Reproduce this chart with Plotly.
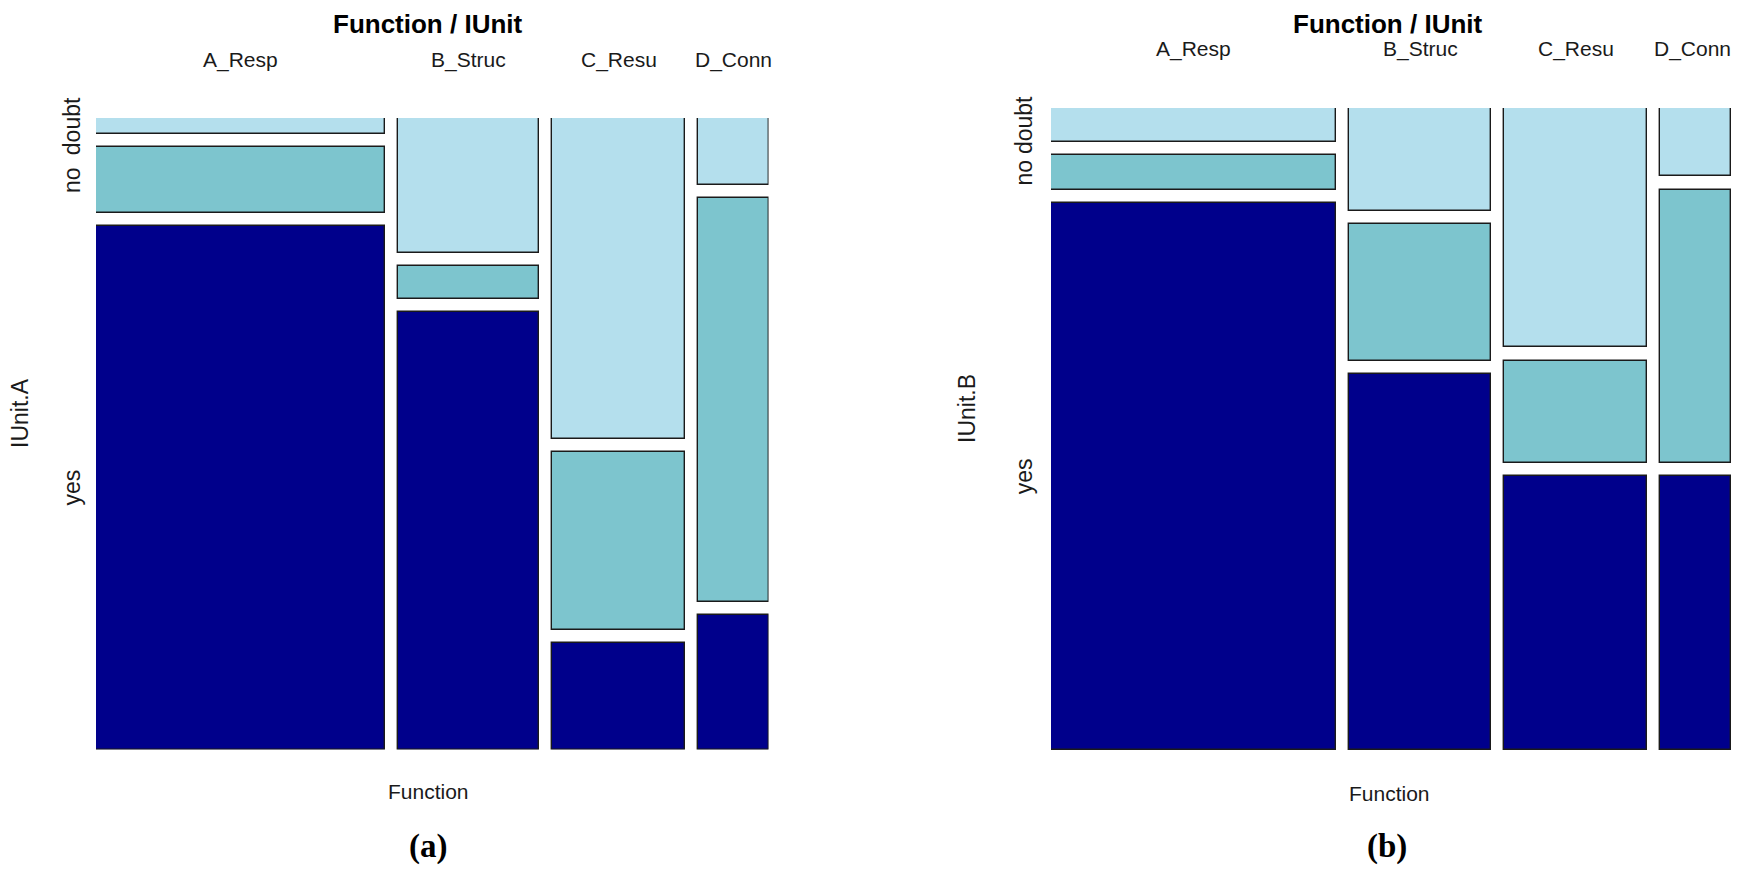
import plotly.graph_objects as go

# ---------------- data ----------------
functions = ["A_Resp", "B_Struc", "C_Resu", "D_Conn"]
levels = ["doubt", "no", "yes"]          # top -> bottom in the mosaic
level_colors = ["#B4DFED", "#7DC5CE", "#00008B"]

# counts per Function (rows) x IUnit level (cols: doubt, no, yes)
counts_a = [
    [1, 4, 32],   # A_Resp
    [4, 1, 13],   # B_Struc
    [9, 5, 3],    # C_Resu
    [1, 6, 2],    # D_Conn
]
counts_b = [
    [2, 2, 32],   # A_Resp
    [3, 4, 11],   # B_Struc
    [7, 3, 8],    # C_Resu
    [1, 4, 4],    # D_Conn
]

panel_titles = ["Function / IUnit", "Function / IUnit"]
y_titles = ["IUnit.A", "IUnit.B"]
x_title = "Function"
panel_tags = ["(a)", "(b)"]

# page body has an 8px margin; work in window pixels and shift by OFF
OFF = 8
W, H = 1742 - 2 * OFF, 878 - 2 * OFF - 4
GAP_X = 0.0193
GAP_Y = 0.0205

# panel pixel boxes in window coords: (left, right, top, bottom)
boxes = [(96, 768.5, 118, 749.5), (1051, 1731.0, 108, 750)]

FONT = "Liberation Sans, Arial, sans-serif"
TXT = "#1a1a1a"


def px(x):
    return (x - OFF) / W


def py(y):
    return 1 - (y - OFF) / H


def mosaic(counts):
    col_tot = [sum(r) for r in counts]
    total = sum(col_tot)
    avail_x = 1 - GAP_X * (len(counts) - 1)
    cols = []
    x0 = 0.0
    for r, ct in zip(counts, col_tot):
        w = avail_x * ct / total
        avail_y = 1 - GAP_Y * (len(r) - 1)
        segs = []
        ytop = 1.0
        for v in r:
            h = avail_y * v / ct
            segs.append((ytop - h, h))
            ytop = ytop - h - GAP_Y
        cols.append((x0, w, segs))
        x0 += w + GAP_X
    return cols


fig = go.Figure()
annotations = []

for p, counts in enumerate([counts_a, counts_b]):
    xa = "x" if p == 0 else "x2"
    ya = "y" if p == 0 else "y2"
    cols = mosaic(counts)
    for li, lev in enumerate(levels):
        fig.add_trace(go.Bar(
            x=[c[0] + c[1] / 2 for c in cols],
            width=[c[1] for c in cols],
            base=[c[2][li][0] for c in cols],
            y=[c[2][li][1] for c in cols],
            marker=dict(color=level_colors[li], line=dict(color="#1a1a1a", width=1.4)),
            name=lev, showlegend=False, xaxis=xa, yaxis=ya, cliponaxis=False,
            hovertemplate=lev + "<extra></extra>",
        ))
    # column labels
    lab_y = 60 if p == 0 else 49
    for fi, f in enumerate(functions):
        x0, w, _ = cols[fi]
        last_b = (p == 1 and fi == len(functions) - 1)
        annotations.append(dict(x=1.0 if last_b else x0 + w / 2, xref=xa,
                                xshift=2 if last_b else 0,
                                y=py(lab_y), yref="paper",
                                text=f, showarrow=False,
                                xanchor="right" if last_b else "center", yanchor="middle",
                                font=dict(family=FONT, size=21, color=TXT)))
    # level labels on first column
    lev_x = 72 if p == 0 else 1024
    for li, lev in enumerate(levels):
        b, h = cols[0][2][li]
        annotations.append(dict(x=px(lev_x), xref="paper", y=b + h / 2, yref=ya,
                                text=lev, showarrow=False, textangle=-90,
                                xanchor="center", yanchor="middle",
                                font=dict(family=FONT, size=23, color=TXT)))
    # y title
    yt_x = 20 if p == 0 else 967
    yt_y = 413 if p == 0 else 409
    annotations.append(dict(x=px(yt_x), xref="paper", y=py(yt_y), yref="paper",
                            text=y_titles[p], showarrow=False, textangle=-90,
                            xanchor="center", yanchor="middle",
                            font=dict(family=FONT, size=23, color=TXT)))
    # title
    t_x = 428 if p == 0 else 1388
    if p == 0:
        annotations.append(dict(x=px(t_x), xref="paper", y=py(24), yref="paper",
                                text="<b>" + panel_titles[p] + "</b>", showarrow=False,
                                xanchor="center", yanchor="middle",
                                font=dict(family=FONT, size=26, color="#000000")))
    else:
        annotations.append(dict(x=px(t_x), xref="paper", y=1, yref="paper",
                                text="<b>" + panel_titles[p] + "</b>", showarrow=False,
                                xanchor="center", yanchor="top", borderpad=0,
                                font=dict(family=FONT, size=26, color="#000000")))
    # x title
    xl_y = 791 if p == 0 else 793
    xl_x = 428 if p == 0 else 1389
    annotations.append(dict(x=px(xl_x), xref="paper", y=py(xl_y), yref="paper",
                            text=x_title, showarrow=False, xanchor="center", yanchor="middle",
                            font=dict(family=FONT, size=21, color=TXT)))
    # panel tag
    tg_x = 428 if p == 0 else 1387
    annotations.append(dict(x=px(tg_x), xref="paper", y=0, yref="paper",
                            text="<b>" + panel_tags[p] + "</b>", showarrow=False,
                            xanchor="center", yanchor="bottom", borderpad=0,
                            font=dict(family="Liberation Serif, Times New Roman, serif",
                                      size=33, color="#000000")))

ax_common = dict(showgrid=False, zeroline=False, showticklabels=False, ticks="",
                 showline=False, fixedrange=True)
(l0, r0, t0, b0), (l1, r1, t1, b1) = boxes
fig.update_layout(
    width=W, height=H,
    margin=dict(l=0, r=0, t=0, b=0),
    paper_bgcolor="white", plot_bgcolor="white",
    barmode="overlay", bargap=0,
    xaxis=dict(domain=[px(l0), px(r0)], range=[0, 1], anchor="y", **ax_common),
    yaxis=dict(domain=[py(b0), py(t0)], range=[0, 1], anchor="x", **ax_common),
    xaxis2=dict(domain=[px(l1), px(r1)], range=[0, 1], anchor="y2", **ax_common),
    yaxis2=dict(domain=[py(b1), py(t1)], range=[0, 1], anchor="x2", **ax_common),
    annotations=annotations,
)

fig.write_html("out.html")
